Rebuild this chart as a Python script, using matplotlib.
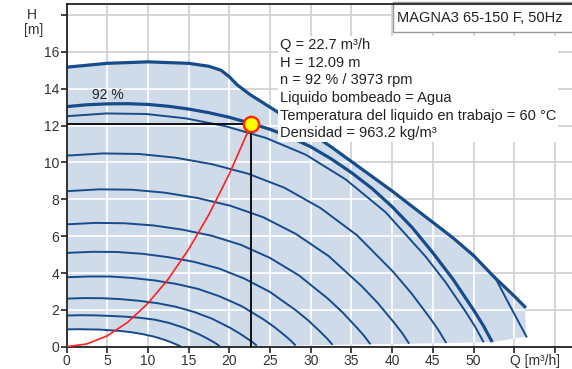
import matplotlib
matplotlib.use("Agg")
import matplotlib.pyplot as plt
from matplotlib.patches import Rectangle

plt.rcParams['font.family'] = ['Liberation Sans', 'DejaVu Sans']

# duty point
q_op = 22.7
h_op = 12.09

# outer limit curve (thick)
q_max = [0, 5, 10, 15, 17.5, 19, 20, 21, 22.5, 25, 27.5, 30, 32.5, 35, 37.5, 40,
         42.5, 45, 47.5, 50, 52.5, 55, 56.3]
h_max = [15.17, 15.38, 15.46, 15.38, 15.22, 15.0, 14.65, 14.2, 13.7, 13.0, 12.3, 11.6,
         10.85, 10.05, 9.25, 8.45, 7.6, 6.75, 5.9, 4.95, 3.8, 2.75, 2.17]

# thin end of max speed curve
q_branch = [52.6, 54.5, 56.5]
h_branch = [3.8, 2.2, 0.55]

# speed curves, lowest first
q_c1 = [0, 1.34, 2.68, 4.02, 5.36, 6.7, 8.04, 9.38, 10.72, 12.06, 12.73, 13.4, 13.72, 14.02]
h_c1 = [0.94, 0.95, 0.94, 0.93, 0.89, 0.85, 0.78, 0.68, 0.55, 0.37, 0.26, 0.14, 0.08, 0.02]
q_c2 = [0, 1.8, 3.6, 5.4, 7.2, 9.0, 10.8, 12.6, 14.4, 16.2, 17.1, 18.0, 18.43, 18.83]
h_c2 = [1.69, 1.71, 1.70, 1.67, 1.63, 1.57, 1.47, 1.29, 1.03, 0.69, 0.49, 0.27, 0.15, 0.03]
q_c3 = [0, 2.24, 4.47, 6.71, 8.94, 11.18, 13.41, 15.65, 17.88, 20.12, 21.23, 22.35, 22.9, 23.38]
h_c3 = [2.61, 2.64, 2.63, 2.58, 2.49, 2.36, 2.17, 1.89, 1.52, 1.02, 0.73, 0.40, 0.23, 0.05]
q_c4 = [0, 2.69, 5.38, 8.07, 10.76, 13.45, 16.14, 18.83, 21.52, 24.21, 25.56, 26.9, 27.55, 28.14]
h_c4 = [3.77, 3.81, 3.81, 3.73, 3.60, 3.41, 3.14, 2.73, 2.20, 1.48, 1.06, 0.58, 0.33, 0.07]
q_c5 = [0, 3.13, 6.25, 9.38, 12.5, 15.63, 18.75, 21.88, 25, 28.13, 29.69, 31.25, 32.0, 32.69]
h_c5 = [5.09, 5.15, 5.14, 5.04, 4.86, 4.61, 4.24, 3.69, 2.97, 1.99, 1.43, 0.78, 0.45, 0.10]
q_c6 = [0, 3.57, 7.14, 10.71, 14.28, 17.85, 21.42, 24.99, 28.56, 32.13, 33.92, 35.7, 36.56, 37.34]
h_c6 = [6.64, 6.72, 6.70, 6.58, 6.35, 6.02, 5.53, 4.82, 3.87, 2.60, 1.86, 1.02, 0.59, 0.13]
q_c7 = [0, 4.03, 8.05, 12.08, 16.1, 20.13, 24.15, 28.18, 32.2, 36.23, 38.24, 40.25, 41.22, 42.1]
h_c7 = [8.44, 8.54, 8.52, 8.36, 8.07, 7.65, 7.03, 6.12, 4.92, 3.30, 2.37, 1.30, 0.75, 0.16]
q_c8 = [0, 4.46, 8.92, 13.38, 17.84, 22.3, 26.76, 31.22, 35.68, 40.14, 42.37, 44.6, 45.67, 46.65]
h_c8 = [10.37, 10.49, 10.46, 10.26, 9.91, 9.39, 8.63, 7.52, 6.05, 4.06, 2.90, 1.59, 0.92, 0.20]
q_c9 = [0, 4.9, 9.8, 14.7, 19.6, 24.5, 29.4, 34.3, 39.2, 44.1, 46.55, 49.0, 50.18, 51.25]
h_c9 = [12.51, 12.66, 12.63, 12.39, 11.96, 11.33, 10.42, 9.08, 7.30, 4.90, 3.51, 1.92, 1.10, 0.24]
# 92 % curve (thick)
q_c10 = [0, 2.5, 5, 7.5, 10, 12.5, 15, 17.5, 20, 22.5, 25, 27.5, 30, 32.5, 35, 37.5, 40,
         42.5, 45, 47.5, 50, 51.2, 52.3]
h_c10 = [13.03, 13.13, 13.18, 13.19, 13.15, 13.05, 12.9, 12.7, 12.45, 12.14, 11.8, 11.37,
         10.85, 10.2, 9.45, 8.6, 7.6, 6.45, 5.1, 3.65, 2.0, 1.15, 0.25]

curves = [(q_c1, h_c1), (q_c2, h_c2), (q_c3, h_c3), (q_c4, h_c4), (q_c5, h_c5),
          (q_c6, h_c6), (q_c7, h_c7), (q_c8, h_c8), (q_c9, h_c9), (q_c10, h_c10)]

# system curve
q_sys = [0, 2.5, 5, 7.5, 10, 12.5, 15, 17.5, 20, 22.7]
h_sys = [0, 0.15, 0.59, 1.32, 2.35, 3.67, 5.28, 7.18, 9.38, 12.09]

info_lines = [
    "Q = 22.7 m³/h",
    "H = 12.09 m",
    "n = 92 % / 3973 rpm",
    "Liquido bombeado = Agua",
    "Temperatura del liquido en trabajo = 60 °C",
    "Densidad = 963.2 kg/m³",
]
title_text = "MAGNA3 65-150 F, 50Hz"

blue = '#174b8c'
fill_col = '#cfdbe9'

fig = plt.figure(figsize=(5.72, 3.69), dpi=100)
ax = fig.add_axes([66.5 / 572, 22.3 / 369, (572 - 66.5) / 572, (346.7 - 4) / 369])
ax.set_xlim(0, 62.1)
ax.set_ylim(0, 18.6)

xt = list(range(0, 61, 5))
yt = list(range(0, 19, 2))
ax.set_xticks(xt)
ax.set_yticks(yt)
ax.set_xticklabels([str(v) for v in xt[:-2]] + ['', ''])
ax.set_yticklabels([str(v) for v in yt[:-1]] + [''])
ax.tick_params(direction='out', length=4.5, width=1.2, color='#222222',
               labelsize=10, labelcolor='#333333', pad=0.8)
for s in ['left', 'bottom', 'top']:
    ax.spines[s].set_color('#222222')
    ax.spines[s].set_linewidth(1.3)
ax.spines['right'].set_visible(False)
ax.spines['top'].set_zorder(7)

ax.set_axisbelow(True)
ax.grid(True, color='#d0d0d0', lw=1.2)

# shaded area
poly_q = q_max + [q_branch[-1]] + [c[0][-1] for c in reversed(curves[1:])] + q_c1[::-1]
poly_h = h_max + [h_branch[-1]] + [c[1][-1] for c in reversed(curves[1:])] + h_c1[::-1]
poly = ax.fill(poly_q, poly_h, color=fill_col, lw=0, zorder=1)[0]

vl = ax.vlines(xt, 0, 18.6, colors='white', lw=1.2, zorder=1.5)
vl.set_clip_path(poly)
hl = ax.hlines(yt, 0, 62.1, colors='white', lw=1.2, zorder=1.5)
hl.set_clip_path(poly)

for i, (q, h) in enumerate(curves):
    lw = 2.3 if i == len(curves) - 1 else 1.4
    ax.plot(q, h, color=blue, lw=lw, zorder=2, solid_capstyle='butt')
ax.plot(q_max, h_max, color=blue, lw=2.3, zorder=2)
ax.plot(q_branch, h_branch, color=blue, lw=1.4, zorder=2)

ax.plot(q_sys, h_sys, color='#ff2020', lw=1.2, zorder=3)
ax.plot([0, q_op, q_op], [h_op, h_op, 0], color='black', lw=1.3, zorder=3)
ax.plot(q_op, h_op, 'o', ms=11, mfc='#ffff00', mec='#ff2a00', mew=1.8, zorder=4)

ax.text(3.1, 13.67, "92 %", fontsize=10, color='#222222', va='center', ha='left', zorder=3)

ax.text(26.2, 16.75, "\n".join(info_lines), fontsize=10.5, color='#222222',
        va='top', ha='left', linespacing=1.33, zorder=5,
        bbox=dict(facecolor='white', edgecolor='none', pad=1.5))

ax.add_patch(Rectangle((40.1, 17.1), 23, 1.6, facecolor='white', edgecolor='#999999',
                       lw=1.0, zorder=6, clip_on=False))
ax.text(40.6, 17.85, title_text, fontsize=10.5, color='#222222', va='center',
        ha='left', zorder=6)

ax.annotate("Q [m³/h]", xy=(55, 0), xycoords='data', xytext=(-3, -5.3),
            textcoords='offset points', ha='left', va='top', fontsize=10, color='#333333',
            annotation_clip=False)
ax.annotate("H", xy=(0, 18), xycoords='data', xytext=(-25, 0),
            textcoords='offset points', ha='center', va='center', fontsize=10,
            color='#333333', annotation_clip=False)
ax.annotate("[m]", xy=(0, 18), xycoords='data', xytext=(-24, -10.5),
            textcoords='offset points', ha='center', va='center', fontsize=10,
            color='#333333', annotation_clip=False)

fig.savefig("out.png", dpi=100)
